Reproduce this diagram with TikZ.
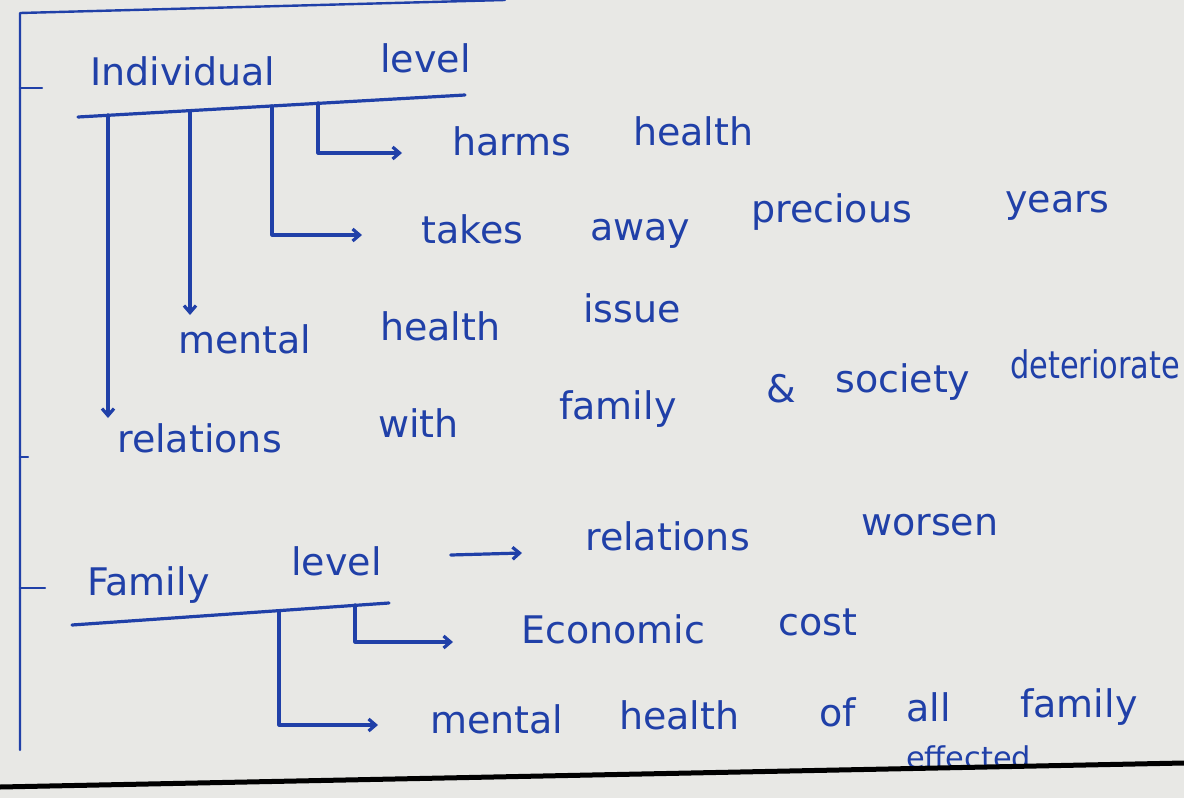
\documentclass[tikz,border=0pt]{standalone}
\usepackage{fontspec}
\setmainfont{DejaVu Sans}
\usetikzlibrary{arrows.meta,calc}
\definecolor{ink}{HTML}{2040A8}
\definecolor{paper}{HTML}{E8E8E5}
\newcommand{\fitw}[2]{\resizebox{#1}{\height}{#2}}
\begin{document}
\begin{tikzpicture}[x=1pt,y=-1pt,
  inkline/.style={draw=ink, line width=3.2pt, line cap=round, line join=round},
  arr/.style={inkline, -{Straight Barb[length=7pt,width=12pt]}},
  hw/.style={text=ink, font=\fontsize{38}{44}\selectfont, inner sep=0pt, anchor=base west},
]
\fill[paper] (0,0) rectangle (1184,798);
\useasboundingbox (0,0) rectangle (1184,798);

% page margin and ticks
\draw[inkline, line width=2.4pt] (505,0) -- (20,13) -- (20,750);
\draw[inkline, line width=2.4pt] (20,88) -- (42,88);
\draw[inkline, line width=2.4pt] (20,457) -- (28,457);
\draw[inkline, line width=2.4pt] (20,588) -- (45,588);

% Individual level
\node[hw] (indA) at (90,85) {Individual};
\node[hw] (indB) at (380,72) {level};
\draw[inkline] (78,117) -- (465,95);
\coordinate (u1) at (108,115);
\coordinate (u2) at (190,111);
\coordinate (u3) at (272,106);
\coordinate (u4) at (318,103);

\node[hw] (harms) at (452,155) {harms};
\node[hw] (harmsB) at (633,145) {health};
\draw[arr] (u4) |- ($(harms.base west)+(-50,-2)$);

\node[hw] (takes) at (421,243) {takes};
\node[hw] (takesB) at (590,240) {away};
\node[hw] (takesC) at (751,222) {precious};
\node[hw] (takesD) at (1005,212) {years};
\draw[arr] (u3) |- ($(takes.base west)+(-59,-8)$);

\node[hw] (mental) at (178,353) {mental};
\node[hw] (mentalB) at (380,340) {health};
\node[hw] (mentalC) at (583,322) {issue};
\coordinate (tB) at ($(mental.base west)+(0,-38)$);
\draw[arr] (u2) -- (u2 |- tB);

\node[hw] (rel) at (117,452) {relations};
\node[hw] (relB) at (378,437) {with};
\node[hw] (relC) at (559,419) {family};
\node[hw] (relD) at (766,402) {\&};
\node[hw] (relE) at (835,392) {society};
\node[hw] (relF) at (1010,378) {\fitw{170pt}{deteriorate}};
\coordinate (tA) at ($(rel.base west)+(0,-34)$);
\draw[arr] (u1) -- (u1 |- tA);

% Family level
\node[hw] (fam) at (87,595) {Family};
\node[hw] (famB) at (291,575) {level};
\draw[inkline] (72,625) -- (389,603);
\coordinate (f1) at (279,611);
\coordinate (f2) at (355,605);

\node[hw] (relw) at (585,550) {relations};
\node[hw] (relwB) at (861,535) {worsen};
\draw[arr] ($(famB.base east)+(69,-20)$) -- ($(relw.base west)+(-63,3)$);

\node[hw] (eco) at (521,643) {Economic};
\node[hw] (ecoB) at (778,635) {cost};
\draw[arr] (f2) |- ($(eco.base west)+(-68,-1)$);

\node[hw] (mh) at (430,733) {mental};
\node[hw] (mhB) at (619,729) {health};
\node[hw] (mhC) at (819,726) {of};
\node[hw] (mhD) at (906,721) {all};
\node[hw] (mhE) at (1020,717) {family};
\draw[arr] (f1) |- ($(mh.base west)+(-52,-8)$);

\node[hw, font=\fontsize{30}{36}\selectfont] (eff) at (906,768) {\fitw{125pt}{effected}};

% bottom rule of the page
\draw[black, line width=5pt] (0,787) -- (1184,763);
\end{tikzpicture}
\end{document}
